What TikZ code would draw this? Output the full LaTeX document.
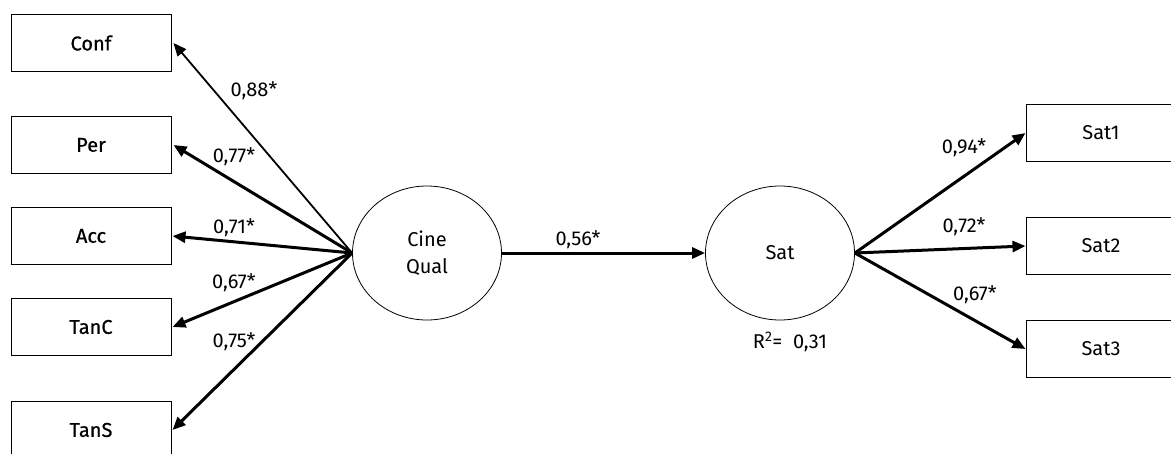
\documentclass[tikz,border=0pt]{standalone}
\usepackage{fontspec}
\setmainfont{Fira Sans}
\newfontfamily\boxfont[FakeBold=0.7]{Fira Sans}
\usetikzlibrary{arrows.meta,shapes.geometric}
\begin{document}
\begin{tikzpicture}[x=1pt,y=-1pt,
  box/.style={draw,line width=1pt,minimum width=160pt,minimum height=57pt,inner sep=0pt,font=\fontsize{20}{22}\boxfont},
  rbox/.style={draw,line width=1pt,minimum width=150pt,minimum height=57pt,inner sep=0pt,font=\fontsize{20}{22}\selectfont},
  lat/.style={draw,ellipse,line width=0.8pt,minimum width=149pt,minimum height=134pt,inner sep=0pt,font=\fontsize{20}{27}\selectfont,align=center},
  thickarr/.style={line width=3pt,-{Triangle[length=13pt,width=11pt]}},
  thinarr/.style={line width=1.8pt,-{Triangle[length=13pt,width=11pt]}},
  lab/.style={font=\fontsize{20}{22}\selectfont,inner sep=0pt}]
\useasboundingbox (0,0) rectangle (1171,453);
\node[box] (conf) at (91,43) {Conf};
\node[box] (per) at (91,145) {Per};
\node[box] (acc) at (91,236) {Acc};
\node[box] (tanc) at (91,327) {TanC};
\node[box] (tans) at (91,430) {TanS};
\node[lat] (cq) at (427,253) {Cine\\Qual};
\node[lat] (sat) at (780,253) {Sat};
\node[rbox] (s1) at (1101,133) {Sat1};
\node[rbox] (s2) at (1101,246) {Sat2};
\node[rbox] (s3) at (1101,349) {Sat3};
\draw[thinarr] (cq.west) -- ([xshift=2pt]conf.east);
\draw[thickarr] (cq.west) -- ([xshift=2pt]per.east);
\draw[thickarr] (cq.west) -- ([xshift=1pt]acc.east);
\draw[thickarr] (cq.west) -- ([xshift=1pt]tanc.east);
\draw[thickarr] (cq.west) -- ([xshift=1pt]tans.east);
\draw[thickarr] (cq.east) -- (sat.west);
\draw[thickarr] (sat.east) -- (s1.west);
\draw[thickarr] (sat.east) -- (s2.west);
\draw[thickarr] (sat.east) -- (s3.west);
\node[lab] (l1) at (254,91) {0,88*};
\node[lab] (l2) at (234,157) {0,77*};
\node[lab] (l3) at (234,228) {0,71*};
\node[lab] (l4) at (234,283) {0,67*};
\node[lab] (l5) at (234,342) {0,75*};
\node[lab] (l6) at (578,240) {0,56*};
\node[lab] (l7) at (964,148) {0,94*};
\node[lab] (l8) at (964,227) {0,72*};
\node[lab] (l9) at (975,295) {0,67*};
\node[lab] (r2) at (790,342) {R\textsuperscript{2}=\ \ 0,31};
\end{tikzpicture}
\end{document}
